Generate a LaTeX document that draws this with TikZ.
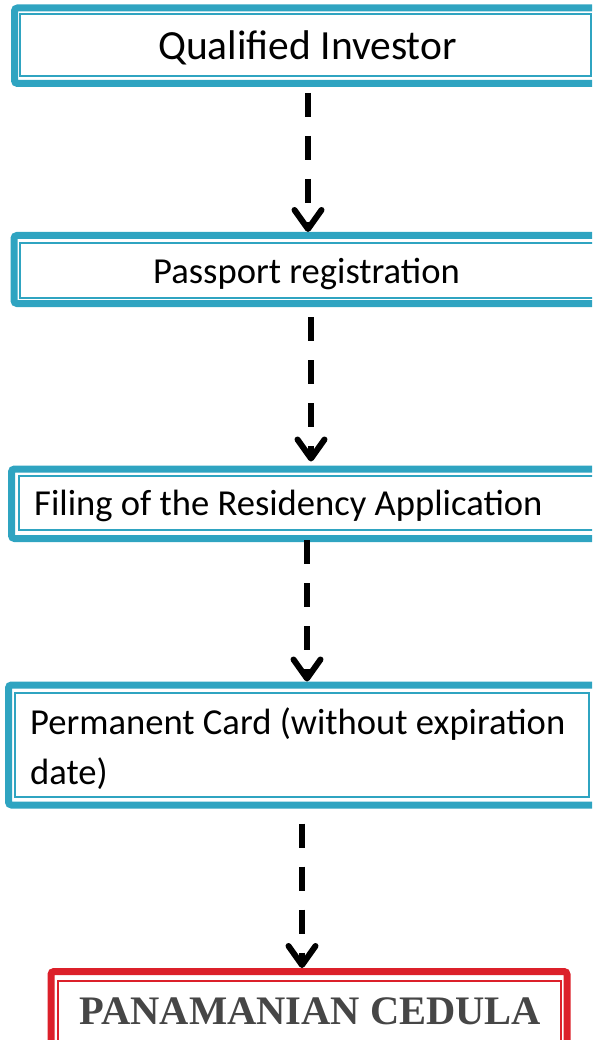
\documentclass[tikz,border=0pt]{standalone}
\usepackage{fontspec}
\setmainfont{Carlito}
\newfontfamily\cedulafont{Liberation Serif}
\usetikzlibrary{arrows.meta}
\definecolor{tealc}{RGB}{47,164,193}
\definecolor{redc}{RGB}{220,32,42}
\definecolor{grayc}{RGB}{70,70,70}
\tikzset{
  frame/.style={draw=tealc, line width=7pt, rounded corners=3pt, inner sep=0pt, fill=white},
  redframe/.style={draw=redc, line width=7pt, rounded corners=3pt, inner sep=0pt, fill=white},
  innerline/.style={draw=tealc, line width=2pt},
  redinner/.style={draw=redc, line width=2pt},
  label/.style={inner sep=0pt, anchor=base, font=\fontsize{36.6}{50}\selectfont},
  leftlabel/.style={inner sep=0pt, anchor=base west, align=left, font=\fontsize{36.6}{50}\selectfont},
  flow/.style={line width=6pt, dash pattern=on 24pt off 19pt,
    -{Straight Barb[length=19pt,width=27pt,line width=6pt,round]}}
}
\begin{document}
\begin{tikzpicture}[x=1pt,y=-1pt]
\useasboundingbox (0,0) rectangle (592,1040);
\clip (0,0) rectangle (592,1040);
% boxes
\node[frame, minimum width=590.5pt, minimum height=75.5pt] (b1) at (309.75,45.75) {};
\node[frame, minimum width=591pt, minimum height=68pt] (b2) at (309.5,269.5) {};
\node[frame, minimum width=593.5pt, minimum height=69.5pt] (b3) at (308.25,503.75) {};
\node[frame, minimum width=596.5pt, minimum height=120pt] (b4) at (306.75,745) {};
\node[redframe, minimum width=516pt, minimum height=78.5pt] (b5) at (309,1010.75) {};
% inner lines
\draw[innerline] (20,14.5) rectangle (591,76.5);
\draw[innerline] (20,243) rectangle (620,298);
\draw[innerline] (18.5,476) rectangle (620,530);
\draw[innerline] (14.5,693) rectangle (589,796.5);
\draw[redinner] (58,981) rectangle (561,1060);
% texts
\node[label, font=\fontsize{41.5}{50}\selectfont] (t1) at (307.5,59.5) {Qualified Investor};
\node[label] (t2) at (306.5,283.5) {Passport registration};
\node[leftlabel] (t3) at (34,515) {Filing of the Residency Application};
\node[leftlabel] (t4) at (30,784) {Permanent Card (without expiration\\date)};
\node[label, font=\cedulafont\bfseries\fontsize{40.5}{50}\selectfont, text=grayc] (t5) at (310.5,1024) {PANAMANIAN CEDULA};
% arrows
\coordinate (a1) at (308,0);
\coordinate (a2) at (311,0);
\coordinate (a3) at (307,0);
\coordinate (a4) at (302,0);
\draw[flow, shorten <=6pt] (b1.south -| a1) -- (b2.north -| a1);
\draw[flow, shorten <=10pt, shorten >=4pt] (b2.south -| a2) -- (b3.north -| a2);
\draw[flow, shorten <=-2pt] (b3.south -| a3) -- (b4.north -| a3);
\draw[flow, shorten <=15pt] (b4.south -| a4) -- (b5.north -| a4);
\end{tikzpicture}
\end{document}
